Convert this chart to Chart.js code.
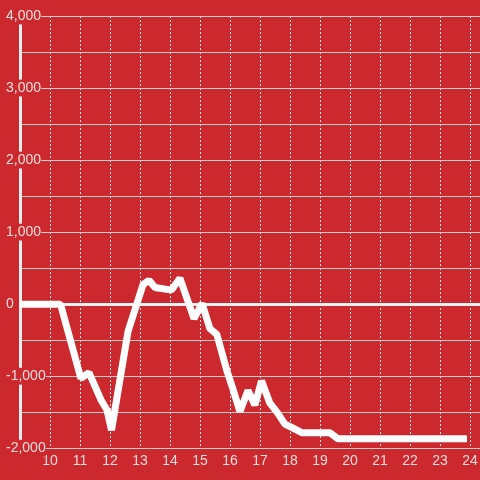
<!DOCTYPE html>
<html>
<head>
<meta charset="utf-8">
<script src="https://cdn.jsdelivr.net/npm/chart.js@4"></script>
<style>
  html, body { margin: 0; padding: 0; background: #cc292e; }
  #wrap { width: 480px; height: 480px; }
</style>
</head>
<body>
<div id="wrap"><canvas id="c" width="480" height="480"></canvas></div>
<script>
// ---- data ----
const hours = [8.8, 10.35, 11.03, 11.3, 11.7, 11.9, 12.05, 12.6, 13.1, 13.3, 13.5, 14.05, 14.33, 14.8, 15.07, 15.33, 15.56, 15.89, 16.11, 16.33, 16.6, 16.83, 17.05, 17.33, 17.56, 17.83, 18.07, 18.39, 19.33, 19.6, 23.9];
const values = [0, 0, -1030, -950, -1330, -1470, -1750, -380, 270, 330, 230, 195, 360, -200, 10, -340, -420, -915, -1195, -1490, -1200, -1400, -1065, -1375, -1495, -1665, -1715, -1785, -1785, -1870, -1870];
const xTickValues = [10, 11, 12, 13, 14, 15, 16, 17, 18, 19, 20, 21, 22, 23, 24];
const yTickValues = [-2000, -1000, 0, 1000, 2000, 3000, 4000];

const RED = '#cc292e';
const TEXT = '#f5dcdc';
const FONT = { family: "'Liberation Sans', Arial, sans-serif", size: 14 };

const points = hours.map((h, i) => ({ x: h, y: values[i] }));

new Chart(document.getElementById('c'), {
  type: 'line',
  data: {
    datasets: [{
      data: points,
      borderColor: '#ffffff',
      borderWidth: 7,
      borderJoinStyle: 'bevel',
      pointRadius: 0,
      tension: 0,
      fill: false
    }]
  },
  options: {
    responsive: false,
    animation: false,
    layout: { padding: { top: 16, left: 0, right: 0, bottom: 5 } },
    plugins: { legend: { display: false }, tooltip: { enabled: false } },
    scales: {
      x: {
        type: 'linear',
        min: 9,
        max: 24.333,
        afterFit: s => { s.paddingLeft = 0; s.paddingRight = 0; },
        ticks: {
          stepSize: 1,
          includeBounds: false,
          autoSkip: false,
          maxRotation: 0,
          padding: 5,
          color: TEXT,
          font: FONT,
          callback: v => xTickValues.includes(v) ? String(v) : ''
        },
        grid: {
          drawTicks: false,
          color: ctx => (ctx.tick && xTickValues.includes(ctx.tick.value)) ? '#e2e2e2' : 'rgba(0,0,0,0)',
          lineWidth: 1
        },
        border: { display: false, dash: [2, 2] }
      },
      y: {
        min: -2000,
        max: 4000,
        afterFit: s => { s.width = 20; s.paddingTop = 0; s.paddingBottom = 0; },
        ticks: {
          stepSize: 500,
          mirror: true,
          padding: -14,
          color: TEXT,
          font: FONT,
          showLabelBackdrop: ctx => yTickValues.includes(ctx.tick.value),
          backdropColor: RED,
          backdropPadding: { top: 0, bottom: 0, left: 1, right: 0 },
          callback: v => yTickValues.includes(v) ? v.toLocaleString('en-US') : ''
        },
        grid: {
          drawTicks: false,
          color: ctx => (ctx.tick && ctx.tick.value === 0) ? '#f2f2f2' : '#cccccc',
          lineWidth: ctx => (ctx.tick && ctx.tick.value === 0) ? 3 : 1
        },
        border: { display: true, color: '#eeeeee', width: 3 }
      }
    }
  },
  plugins: [{
    id: 'bg',
    beforeDraw(chart) {
      const c = chart.ctx;
      c.save();
      c.fillStyle = RED;
      c.fillRect(0, 0, chart.width, chart.height);
      c.restore();
    }
  }]
});
</script>
</body>
</html>
